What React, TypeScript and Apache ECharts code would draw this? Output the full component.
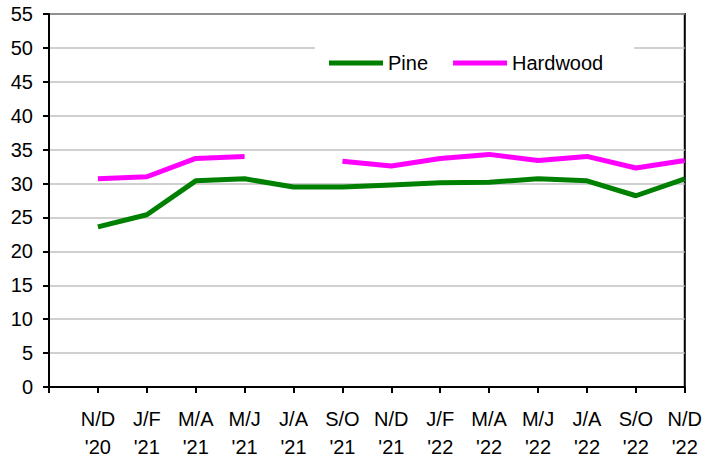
import React, { useEffect, useRef } from "react";
import * as echarts from "echarts";

const categories = ["", "N/D\n'20", "J/F\n'21", "M/A\n'21", "M/J\n'21", "J/A\n'21", "S/O\n'21", "N/D\n'21", "J/F\n'22", "M/A\n'22", "M/J\n'22", "J/A\n'22", "S/O\n'22", "N/D\n'22"];
const pine = [null, 23.6, 25.4, 30.4, 30.7, 29.5, 29.5, 29.8, 30.1, 30.2, 30.7, 30.4, 28.2, 30.7];
const hardwood = [null, 30.7, 31.0, 33.7, 34.0, null, 33.3, 32.6, 33.7, 34.3, 33.4, 34.0, 32.3, 33.4];

const FONT = "'Liberation Sans', Arial, sans-serif";

export default function App() {
  const ref = useRef<HTMLDivElement>(null);
  useEffect(() => {
    if (!ref.current) return;
    const chart = echarts.init(ref.current, null, { renderer: "svg" });
    chart.setOption({
      animation: false,
      backgroundColor: "#fff",
      grid: {
        left: 49,
        right: 18,
        top: 14,
        bottom: 77,
        show: true,
        borderColor: "#000",
        borderWidth: 2,
        backgroundColor: "transparent",
      },
      legend: {
        left: 315,
        top: 45,
        padding: [8, 31, 8, 14],
        backgroundColor: "#fff",
        itemWidth: 54,
        itemHeight: 5,
        itemGap: 25,
        textStyle: { fontFamily: FONT, fontSize: 20, color: "#000" },
        data: [
          { name: "Pine", icon: "rect" },
          { name: "Hardwood", icon: "rect" },
        ],
      },
      xAxis: {
        type: "category",
        boundaryGap: false,
        data: categories,
        axisLine: { lineStyle: { color: "#000", width: 2 } },
        axisTick: { show: true, interval: 0, length: 6, lineStyle: { color: "#000", width: 2 } },
        axisLabel: {
          interval: 0,
          fontFamily: FONT,
          fontSize: 20,
          lineHeight: 28,
          color: "#000",
          margin: 18,
        },
        splitLine: { show: false },
      },
      yAxis: {
        type: "value",
        min: 0,
        max: 55,
        interval: 5,
        axisLine: { show: true, lineStyle: { color: "#000", width: 2 } },
        axisTick: { show: true, length: 6, lineStyle: { color: "#000", width: 2 } },
        axisLabel: { fontFamily: FONT, fontSize: 20, color: "#000", margin: 16 },
        splitLine: { show: true, lineStyle: { color: "#c0c0c0", width: 1.5 } },
      },
      series: [
        {
          name: "Pine",
          type: "line",
          data: pine,
          symbol: "none",
          connectNulls: false,
          color: "#008000",
          lineStyle: { color: "#008000", width: 5 },
          z: 3,
        },
        {
          name: "Hardwood",
          type: "line",
          data: hardwood,
          symbol: "none",
          connectNulls: false,
          color: "#FF00FF",
          lineStyle: { color: "#FF00FF", width: 5 },
          z: 3,
        },
      ],
    });
    return () => chart.dispose();
  }, []);
  return (
    <div
      ref={ref}
      style={{ position: "fixed", left: 0, top: 0, width: 705, height: 464 }}
    />
  );
}
